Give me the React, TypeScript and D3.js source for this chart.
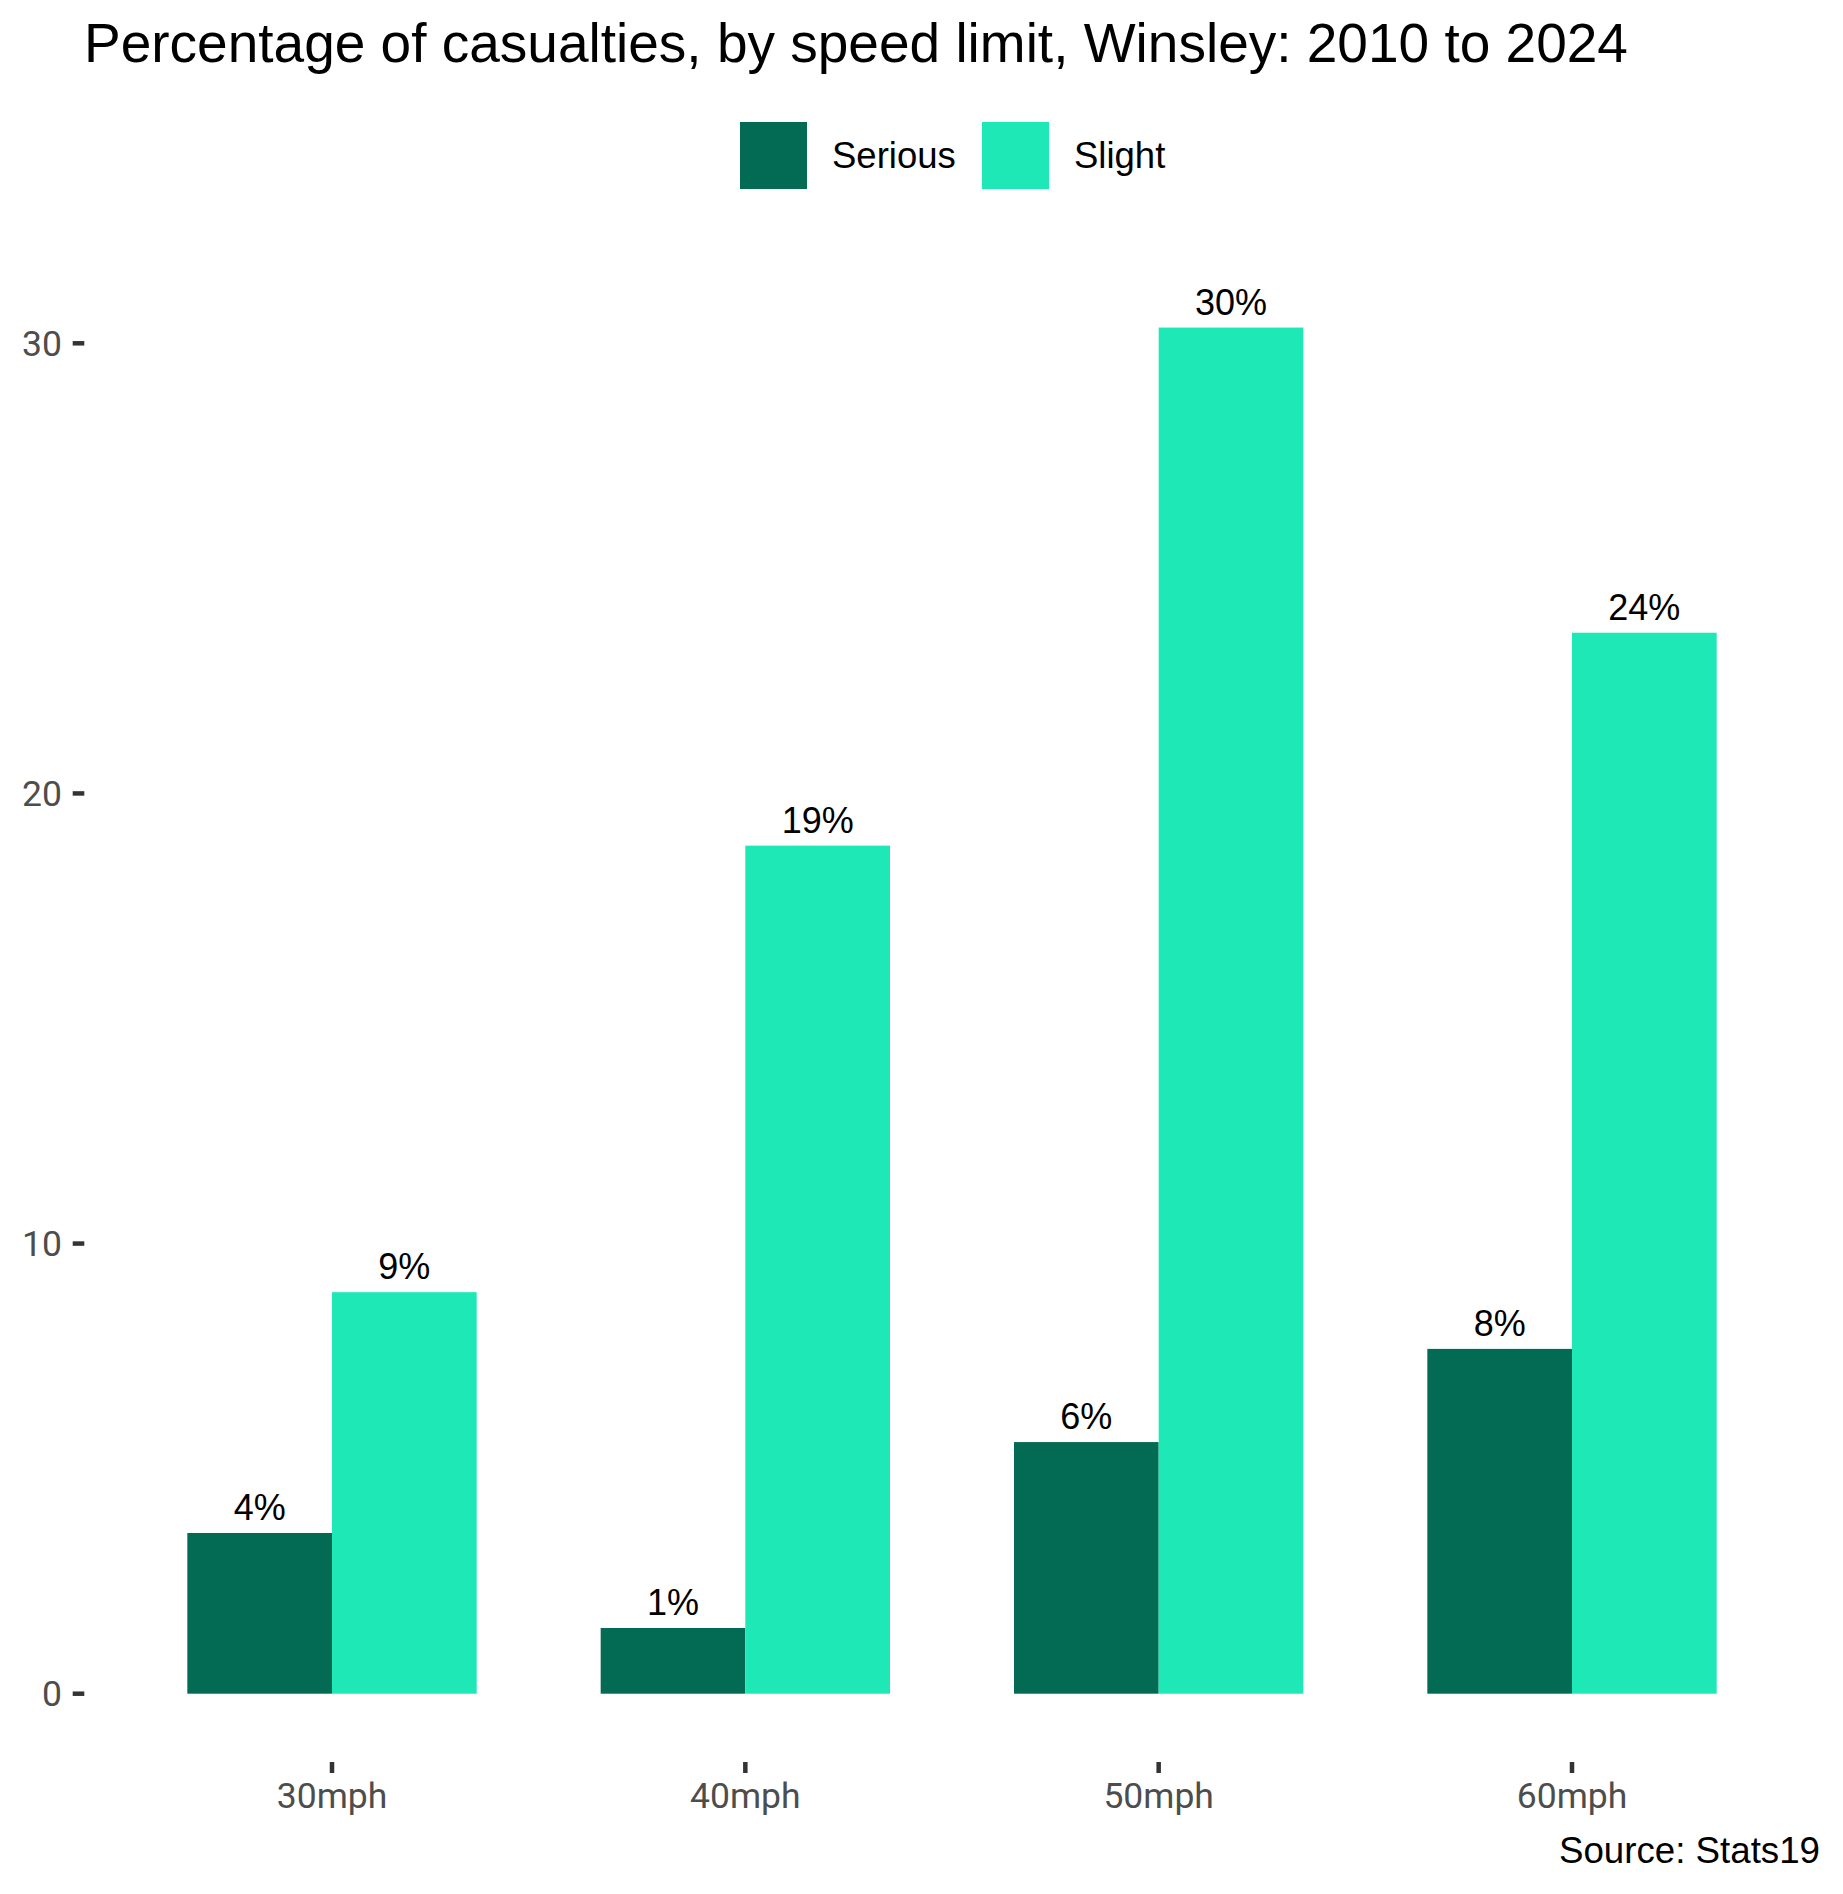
import React from "react";
import * as d3 from "d3";

const categories = ["30mph", "40mph", "50mph", "60mph"];
const seriesNames = ["Serious", "Slight"];
const seriousValues = [3.57, 1.46, 5.59, 7.66];
const slightValues = [8.92, 18.84, 30.35, 23.57];
const yTicks = [0, 10, 20, 30];
const colors = ["#036A54", "#1EE9B6"];

const W = 1843;
const H = 1894;

export default function App() {
  const x = d3
    .scaleBand<string>()
    .domain(categories)
    .range([84, 1820])
    .paddingInner(0.3)
    .paddingOuter(0.25);
  const xInner = d3
    .scaleBand<string>()
    .domain(seriesNames)
    .range([0, x.bandwidth()])
    .padding(0);
  const y = d3.scaleLinear().domain([0, 30]).range([1693.7, 343.3]);

  const series = [seriousValues, slightValues];
  const fmt = (v: number) => `${Math.round(v)}%`;

  return (
    <svg
      width={W}
      height={H}
      style={{ position: "absolute", left: 0, top: 0, display: "block", background: "#fff" }}
    >
      <rect x={0} y={0} width={W} height={H} fill="#fff" />
      <text
        x={84}
        y={61.7}
        fontFamily="'Liberation Sans', Arial, sans-serif"
        fontSize={55}
        fill="#000"
      >
        Percentage of casualties, by speed limit, Winsley: 2010 to 2024
      </text>

      {/* legend */}
      {seriesNames.map((s, i) => {
        const kx = [740, 982][i];
        return (
          <g key={s}>
            <rect x={kx} y={122} width={67} height={67} fill={colors[i]} />
            <text
              x={kx + 92}
              y={155.5}
              dy="0.35em"
              fontFamily="'Liberation Sans', Arial, sans-serif"
              fontSize={36.5}
              fill="#000"
            >
              {s}
            </text>
          </g>
        );
      })}

      {/* y axis */}
      {yTicks.map((t) => (
        <g key={t}>
          <line x1={72.7} x2={84.3} y1={y(t)} y2={y(t)} stroke="#333" strokeWidth={4.5} />
          <text
            x={62}
            y={y(t)}
            dy="0.36em"
            textAnchor="end"
            fontFamily="Roboto, sans-serif"
            fontSize={35.5}
            fill="#4D4D4D"
          >
            {t}
          </text>
        </g>
      ))}

      {/* x axis */}
      {categories.map((c) => {
        const cx = (x(c) as number) + x.bandwidth() / 2;
        return (
          <g key={c}>
            <line x1={cx} x2={cx} y1={1762} y2={1773} stroke="#333" strokeWidth={4.5} />
            <text
              x={cx}
              y={1808}
              textAnchor="middle"
              fontFamily="Roboto, sans-serif"
              fontSize={35.5}
              fill="#4D4D4D"
            >
              {c}
            </text>
          </g>
        );
      })}

      {/* bars */}
      {categories.map((c, ci) => (
        <g key={c} transform={`translate(${x(c)},0)`}>
          {seriesNames.map((s, si) => {
            const v = series[si][ci];
            const bx = xInner(s) as number;
            return (
              <g key={s}>
                <rect
                  x={bx}
                  y={y(v)}
                  width={xInner.bandwidth()}
                  height={y(0) - y(v)}
                  fill={colors[si]}
                />
                <text
                  x={bx + xInner.bandwidth() / 2}
                  y={y(v) - 12.7}
                  textAnchor="middle"
                  fontFamily="'Liberation Sans', Arial, sans-serif"
                  fontSize={36}
                  fill="#000"
                >
                  {fmt(v)}
                </text>
              </g>
            );
          })}
        </g>
      ))}

      <text
        x={1820}
        y={1863}
        textAnchor="end"
        fontFamily="'Liberation Sans', Arial, sans-serif"
        fontSize={36.7}
        fill="#000"
      >
        Source: Stats19
      </text>
    </svg>
  );
}
